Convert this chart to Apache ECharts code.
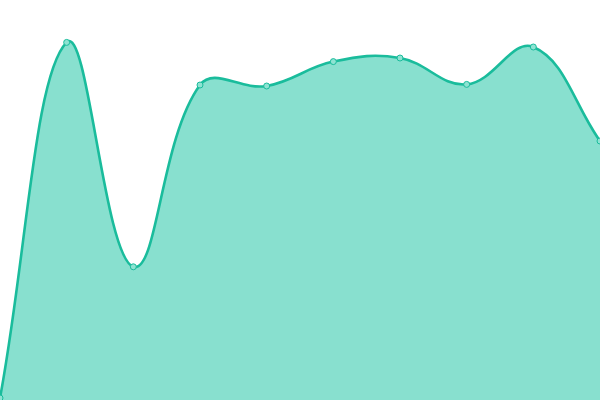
<!DOCTYPE html>
<html><head><meta charset="utf-8">
<script src="https://cdn.jsdelivr.net/npm/echarts@6/dist/echarts.min.js"></script>
<style>html,body{margin:0;padding:0;background:#fff}#c{width:600px;height:400px}</style>
</head><body><div id="c"></div>
<script>
var categories = ['1','2','3','4','5','6','7','8','9','10'];
var values = [0.5, 89.4, 33.3, 78.75, 78.5, 84.6, 85.5, 78.9, 88.25, 64.75];
var tension = 0.4;

function controlPoints(pts) {
  var cps = [];
  for (var i = 0; i < pts.length; i++) {
    var cur = pts[i];
    var prev = pts[i - 1] || cur;
    var next = pts[i + 1] || cur;
    var d01 = Math.hypot(cur[0] - prev[0], cur[1] - prev[1]);
    var d12 = Math.hypot(next[0] - cur[0], next[1] - cur[1]);
    var s01 = d01 / (d01 + d12), s12 = d12 / (d01 + d12);
    if (isNaN(s01)) s01 = 0;
    if (isNaN(s12)) s12 = 0;
    var fa = tension * s01, fb = tension * s12;
    cps.push({
      p: [cur[0] - fa * (next[0] - prev[0]), cur[1] - fa * (next[1] - prev[1])],
      n: [cur[0] + fb * (next[0] - prev[0]), cur[1] + fb * (next[1] - prev[1])]
    });
  }
  return cps;
}

var chart = echarts.init(document.getElementById('c'));
chart.setOption({
  animation: false,
  grid: {left: 0, right: 0, top: 0, bottom: 0},
  xAxis: {type: 'category', data: categories, boundaryGap: false, show: false},
  yAxis: {type: 'value', min: 0, max: 100, show: false},
  series: [{
    type: 'custom',
    data: [[0, 0]],
    clip: false,
    renderItem: function (params, api) {
      var pts = values.map(function (v, i) { return api.coord([i, v]); });
      var cps = controlPoints(pts);
      var d = 'M' + pts[0][0] + ' ' + pts[0][1];
      for (var i = 1; i < pts.length; i++) {
        var a = cps[i - 1].n, b = cps[i].p;
        d += ' C' + a[0] + ' ' + a[1] + ' ' + b[0] + ' ' + b[1] + ' ' + pts[i][0] + ' ' + pts[i][1];
      }
      var base0 = api.coord([0, 0]);
      var baseN = api.coord([values.length - 1, 0]);
      var area = d + ' L' + baseN[0] + ' ' + baseN[1] + ' L' + base0[0] + ' ' + base0[1] + ' Z';
      var children = [
        {type: 'path', shape: {pathData: area}, style: {fill: '#88e0cf', stroke: null}},
        {type: 'path', shape: {pathData: d}, style: {fill: null, stroke: '#1abc9c', lineWidth: 2.6}}
      ];
      pts.forEach(function (p) {
        children.push({type: 'circle', shape: {cx: p[0], cy: p[1], r: 3}, style: {fill: '#8ee3d2', stroke: '#1abc9c', lineWidth: 1}});
      });
      return {type: 'group', children: children};
    }
  }]
});
</script></body></html>
